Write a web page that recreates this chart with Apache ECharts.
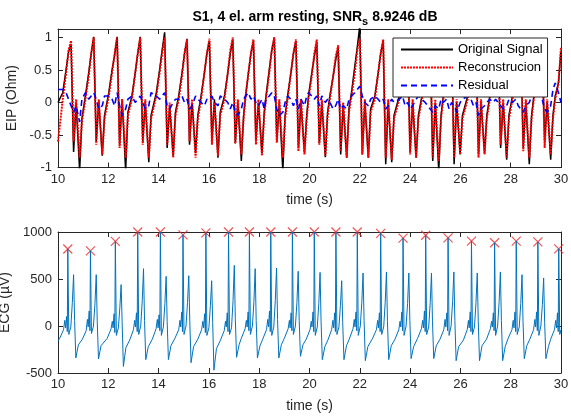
<!DOCTYPE html>
<html>
<head>
<meta charset="utf-8">
<script src="https://cdn.jsdelivr.net/npm/echarts@6/dist/echarts.min.js"></script>
<style>
  html, body { margin: 0; padding: 0; background: #fff; }
  #chart { width: 571px; height: 416px; }
</style>
</head>
<body>
<div id="chart"></div>
<script>
// EIP (top panel): key samples
const EIP_TIME = [
  10.00,
  10.19, 10.32, 10.42, 10.52, 10.62, 10.72, 10.86, 10.95,
  11.09, 11.22, 11.32, 11.42, 11.52, 11.62, 11.76, 11.85,
  12.02, 12.15, 12.25, 12.35, 12.45, 12.55, 12.69, 12.78,
  12.94, 13.07, 13.17, 13.27, 13.37, 13.47, 13.61, 13.70,
  13.91, 14.04, 14.14, 14.24, 14.34, 14.44, 14.58, 14.67,
  14.80, 14.93, 15.03, 15.13, 15.23, 15.33, 15.47, 15.56,
  15.69, 15.82, 15.92, 16.02, 16.12, 16.22, 16.36, 16.45,
  16.62, 16.75, 16.85, 16.95, 17.05, 17.15, 17.29, 17.38,
  17.46, 17.57, 17.67, 17.77, 17.87, 17.97, 18.11, 18.20,
  18.27, 18.40, 18.50, 18.60, 18.70, 18.80, 18.94, 19.03,
  19.13, 19.26, 19.36, 19.46, 19.56, 19.66, 19.80, 19.89,
  19.96, 20.09, 20.19, 20.29, 20.39, 20.49, 20.63, 20.72,
  20.81, 20.94, 21.04, 21.14, 21.24, 21.34, 21.48, 21.57,
  21.67, 21.80, 21.90, 22.00, 22.10, 22.20, 22.34, 22.43,
  22.60, 22.73, 22.83, 22.93, 23.03, 23.13, 23.27, 23.36,
  23.57, 23.70, 23.80, 23.90, 24.00, 24.10, 24.24, 24.33,
  24.47, 24.60, 24.70, 24.80, 24.90, 25.00, 25.14, 25.23,
  25.32, 25.45, 25.55, 25.65, 25.75, 25.85, 25.99, 26.08,
  26.29, 26.42, 26.52, 26.62, 26.72, 26.82, 26.96, 27.05,
  27.17, 27.30, 27.40, 27.50, 27.60, 27.70, 27.84, 27.93,
  28.07, 28.20, 28.30, 28.40, 28.50, 28.60, 28.74, 28.83,
  28.92, 29.05, 29.15, 29.25, 29.35, 29.45, 29.59, 29.68,
  29.77, 29.90, 30.00
]
const EIP_ORIG = [
  0.00,
  0.15, 0.50, 0.78, 0.90, -0.76, 0.00, -1.05, -0.25,
  0.10, 0.45, 0.75, 1.01, -0.60, 0.02, -0.82, -0.20,
  0.15, 0.50, 0.72, 1.01, -0.65, 0.05, -1.05, -0.15,
  0.10, 0.45, 0.75, 1.01, -0.60, 0.00, -0.92, -0.20,
  0.15, 0.50, 0.80, 1.08, -0.70, -0.05, -0.82, -0.15,
  0.10, 0.45, 0.75, 0.98, -0.65, 0.00, -0.78, -0.20,
  0.10, 0.45, 0.75, 0.95, -0.60, 0.05, -0.85, -0.15,
  0.10, 0.45, 0.75, 0.97, -0.63, 0.00, -0.90, -0.20,
  0.10, 0.45, 0.75, 0.95, -0.60, 0.00, -0.78, -0.15,
  0.10, 0.50, 0.80, 1.00, -0.60, 0.00, -1.05, -0.20,
  0.10, 0.45, 0.75, 0.95, -0.70, 0.00, -0.77, -0.20,
  0.10, 0.45, 0.70, 0.93, -0.63, 0.00, -0.84, -0.15,
  0.10, 0.40, 0.65, 0.85, -0.80, -0.05, -0.85, -0.10,
  0.15, 0.55, 0.85, 1.18, -0.80, 0.00, -0.85, -0.10,
  0.10, 0.45, 0.75, 0.95, -0.95, 0.00, -0.92, -0.20,
  0.10, 0.45, 0.75, 0.95, -0.77, 0.00, -0.85, -0.20,
  0.10, 0.45, 0.70, 0.90, -0.90, 0.00, -1.05, -0.20,
  0.10, 0.45, 0.75, 0.95, -0.95, 0.00, -0.80, -0.20,
  0.10, 0.45, 0.70, 0.90, -0.80, 0.00, -0.78, -0.20,
  0.10, 0.45, 0.70, 0.90, -0.70, 0.00, -0.88, -0.20,
  0.10, 0.45, 0.70, 0.90, -0.70, 0.00, -0.95, -0.20,
  0.10, 0.40, 0.65, 0.85, -0.60, 0.00, -0.88, -0.20,
  0.10, 0.30, 0.80
]
const EIP_RECON = [
  -0.60,
  0.05, 0.45, 0.80, 0.95, -0.60, 0.05, -0.85, -0.30,
  0.05, 0.40, 0.75, 1.00, -0.65, 0.05, -0.80, -0.25,
  0.10, 0.45, 0.75, 1.00, -0.70, 0.05, -0.85, -0.20,
  0.05, 0.45, 0.75, 1.00, -0.65, 0.05, -0.85, -0.25,
  0.10, 0.45, 0.75, 1.00, -0.65, 0.00, -0.85, -0.20,
  0.05, 0.40, 0.75, 0.97, -0.60, 0.05, -0.85, -0.25,
  0.05, 0.45, 0.75, 0.98, -0.65, 0.00, -0.82, -0.20,
  0.05, 0.45, 0.80, 1.00, -0.63, 0.05, -0.80, -0.25,
  0.10, 0.45, 0.75, 0.97, -0.65, 0.05, -0.82, -0.20,
  0.05, 0.45, 0.80, 1.00, -0.62, 0.05, -0.85, -0.25,
  0.05, 0.45, 0.75, 0.97, -0.75, 0.05, -0.80, -0.25,
  0.05, 0.40, 0.75, 0.97, -0.65, 0.05, -0.82, -0.20,
  0.05, 0.40, 0.70, 0.88, -0.75, 0.00, -0.85, -0.15,
  0.10, 0.45, 0.80, 0.98, -0.80, 0.05, -0.85, -0.15,
  0.05, 0.45, 0.75, 0.97, -0.85, 0.05, -0.88, -0.25,
  0.05, 0.45, 0.75, 0.95, -0.80, 0.05, -0.85, -0.25,
  0.05, 0.45, 0.75, 0.92, -0.85, 0.05, -0.90, -0.25,
  0.05, 0.45, 0.75, 0.95, -0.85, 0.05, -0.80, -0.25,
  0.05, 0.45, 0.75, 0.92, -0.85, 0.05, -0.80, -0.25,
  0.05, 0.45, 0.75, 0.92, -0.65, 0.05, -0.85, -0.25,
  0.05, 0.45, 0.75, 0.92, -0.75, 0.05, -0.85, -0.25,
  0.05, 0.40, 0.70, 0.88, -0.70, 0.05, -0.80, -0.25,
  0.05, 0.30, 0.85
]
const EIP_RESID = [
  0.20,
  0.20, 0.15, 0.05, -0.05, -0.15, -0.05, -0.30, 0.05,
  0.15, 0.05, 0.10, 0.15, 0.05, -0.10, -0.05, 0.10,
  0.10, 0.05, -0.05, 0.15, -0.05, -0.20, -0.10, 0.05,
  0.10, 0.00, 0.05, 0.10, 0.00, -0.10, -0.05, 0.15,
  0.10, 0.05, 0.10, 0.15, -0.05, -0.10, 0.00, 0.05,
  0.05, 0.10, 0.00, 0.05, -0.10, -0.05, 0.10, 0.05,
  0.00, -0.05, 0.05, 0.05, 0.10, 0.00, -0.05, 0.10,
  0.05, 0.00, -0.10, 0.00, -0.15, -0.20, -0.10, 0.05,
  0.10, 0.15, 0.05, 0.10, 0.00, -0.05, 0.05, -0.10,
  0.05, 0.10, 0.15, 0.10, -0.10, -0.20, -0.15, 0.00,
  0.10, 0.05, -0.05, 0.05, -0.10, 0.05, -0.05, 0.10,
  0.15, 0.10, 0.05, 0.10, -0.05, 0.10, 0.00, 0.05,
  0.00, -0.10, -0.05, 0.05, -0.10, -0.05, -0.10, 0.05,
  0.10, 0.15, 0.20, 0.25, 0.10, 0.00, -0.05, 0.05,
  0.10, 0.05, 0.00, 0.05, -0.10, -0.05, 0.05, 0.00,
  0.05, 0.10, -0.05, 0.00, -0.10, -0.05, 0.05, 0.10,
  0.05, 0.00, -0.05, -0.10, -0.15, -0.05, -0.10, 0.05,
  0.00, 0.05, -0.10, 0.00, -0.05, -0.15, 0.00, 0.05,
  0.10, 0.05, -0.05, 0.00, -0.20, -0.10, -0.05, 0.00,
  0.05, 0.00, 0.05, 0.00, -0.05, -0.10, -0.05, 0.05,
  0.00, 0.05, -0.05, -0.10, -0.15, -0.05, 0.00, 0.10,
  0.15, 0.20, 0.10, 0.05, -0.10, -0.15, -0.05, 0.20,
  0.30, 0.15, 0.00
]

// ECG (bottom panel), one line per beat
const ECG_TIME = [
  10.00,
  10.07, 10.22, 10.27, 10.30, 10.34, 10.37, 10.39, 10.43, 10.51, 10.57, 10.62, 10.66, 10.71, 10.81,
  10.97, 11.12, 11.17, 11.20, 11.24, 11.27, 11.29, 11.33, 11.41, 11.47, 11.52, 11.56, 11.61, 11.71,
  11.96, 12.11, 12.16, 12.19, 12.23, 12.26, 12.28, 12.32, 12.40, 12.46, 12.51, 12.55, 12.60, 12.70,
  12.85, 13.00, 13.05, 13.08, 13.12, 13.15, 13.17, 13.21, 13.29, 13.35, 13.40, 13.44, 13.49, 13.59,
  13.75, 13.90, 13.95, 13.98, 14.02, 14.05, 14.07, 14.11, 14.19, 14.25, 14.30, 14.34, 14.39, 14.49,
  14.65, 14.80, 14.85, 14.88, 14.92, 14.95, 14.97, 15.01, 15.09, 15.15, 15.20, 15.24, 15.29, 15.39,
  15.56, 15.71, 15.76, 15.79, 15.83, 15.86, 15.88, 15.92, 16.00, 16.06, 16.11, 16.15, 16.20, 16.30,
  16.46, 16.61, 16.66, 16.69, 16.73, 16.76, 16.78, 16.82, 16.90, 16.96, 17.01, 17.05, 17.10, 17.20,
  17.29, 17.44, 17.49, 17.52, 17.56, 17.59, 17.61, 17.65, 17.73, 17.79, 17.84, 17.88, 17.93, 18.03,
  18.14, 18.29, 18.34, 18.37, 18.41, 18.44, 18.46, 18.50, 18.58, 18.64, 18.69, 18.73, 18.78, 18.88,
  19.00, 19.15, 19.20, 19.23, 19.27, 19.30, 19.32, 19.36, 19.44, 19.50, 19.55, 19.59, 19.64, 19.74,
  19.87, 20.02, 20.07, 20.10, 20.14, 20.17, 20.19, 20.23, 20.31, 20.37, 20.42, 20.46, 20.51, 20.61,
  20.73, 20.88, 20.93, 20.96, 21.00, 21.03, 21.05, 21.09, 21.17, 21.23, 21.28, 21.32, 21.37, 21.47,
  21.58, 21.73, 21.78, 21.81, 21.85, 21.88, 21.90, 21.94, 22.02, 22.08, 22.13, 22.17, 22.22, 22.32,
  22.51, 22.66, 22.71, 22.74, 22.78, 22.81, 22.83, 22.87, 22.95, 23.01, 23.06, 23.10, 23.15, 23.25,
  23.40, 23.55, 23.60, 23.63, 23.67, 23.70, 23.72, 23.76, 23.84, 23.90, 23.95, 23.99, 24.04, 24.14,
  24.30, 24.45, 24.50, 24.53, 24.57, 24.60, 24.62, 24.66, 24.74, 24.80, 24.85, 24.89, 24.94, 25.04,
  25.19, 25.34, 25.39, 25.42, 25.46, 25.49, 25.51, 25.55, 25.63, 25.69, 25.74, 25.78, 25.83, 25.93,
  26.12, 26.27, 26.32, 26.35, 26.39, 26.42, 26.44, 26.48, 26.56, 26.62, 26.67, 26.71, 26.76, 26.86,
  27.04, 27.19, 27.24, 27.27, 27.31, 27.34, 27.36, 27.40, 27.48, 27.54, 27.59, 27.63, 27.68, 27.78,
  27.90, 28.05, 28.10, 28.13, 28.17, 28.20, 28.22, 28.26, 28.34, 28.40, 28.45, 28.49, 28.54, 28.64,
  28.76, 28.91, 28.96, 28.99, 29.03, 29.06, 29.08, 29.12, 29.20, 29.26, 29.31, 29.35, 29.40, 29.50,
  29.59, 29.74, 29.79, 29.82, 29.86, 29.89, 29.91, 29.95, 30.00
]
const ECG_UV = [
  -160,
  -130, -40, 60, -20, 100, -60, 819, -90, -10, 250, 546, 60, -340, -200,
  -140, -50, 70, -10, 160, -50, 800, -80, 0, 240, 546, 50, -351, -210,
  -130, -30, 50, -20, 130, -70, 900, -100, -20, 200, 440, 40, -430, -230,
  -150, -40, 60, -10, 140, -60, 1000, -90, 0, 270, 610, 60, -358, -220,
  -140, -30, 70, -20, 120, -50, 1000, -100, -10, 240, 528, 50, -358, -210,
  -130, -40, 60, -10, 150, -60, 970, -90, 0, 250, 535, 50, -390, -220,
  -140, -40, 50, -20, 130, -70, 990, -100, -20, 220, 482, 40, -470, -240,
  -150, -50, 50, -10, 140, -60, 1000, -90, -20, 270, 645, 80, -333, -200,
  -130, -30, 60, -10, 150, -50, 1000, -90, 0, 260, 610, 60, -340, -210,
  -140, -40, 70, -10, 160, -60, 1000, -100, -10, 270, 617, 70, -340, -200,
  -130, -30, 60, -20, 140, -50, 1000, -90, 0, 250, 582, 60, -322, -200,
  -140, -40, 50, -10, 150, -60, 1000, -100, -10, 240, 570, 50, -358, -220,
  -150, -40, 60, -20, 140, -60, 1000, -90, -10, 220, 482, 40, -358, -210,
  -140, -30, 70, -10, 150, -50, 1000, -100, 0, 250, 564, 60, -369, -220,
  -130, -40, 60, -20, 140, -60, 985, -90, -10, 250, 575, 50, -358, -210,
  -140, -40, 50, -10, 150, -50, 935, -100, 0, 240, 564, 60, -347, -220,
  -130, -30, 60, -20, 160, -60, 965, -90, -10, 250, 564, 50, -347, -210,
  -140, -40, 70, -10, 140, -50, 938, -100, 0, 260, 575, 60, -369, -220,
  -150, -40, 60, -20, 150, -60, 903, -90, -10, 250, 564, 50, -369, -210,
  -140, -30, 50, -10, 140, -50, 886, -100, 0, 260, 575, 60, -369, -220,
  -130, -40, 60, -20, 150, -60, 903, -90, -10, 240, 546, 50, -347, -210,
  -140, -40, 70, -10, 150, -50, 895, -100, 0, 230, 511, 40, -347, -220,
  -140, -40, 60, -20, 140, -60, 821, -90, -40
]
// detected R peaks (red crosses)
const R_TIME = [10.39, 11.29, 12.28, 13.17, 14.07, 14.97, 15.88, 16.78, 17.61, 18.46, 19.32, 20.19,
  21.05, 21.90, 22.83, 23.72, 24.62, 25.51, 26.44, 27.36, 28.22, 29.08, 29.91]
const R_UV = [819, 800, 900, 1000, 1000, 970, 990, 1000, 1000, 1000, 1000, 1000,
  1000, 1000, 985, 935, 965, 938, 903, 886, 903, 895, 821]

const X_TICKS = [10, 12, 14, 16, 18, 20, 22, 24, 26, 28, 30]
const EIP_TICKS = [-1, -0.5, 0, 0.5, 1]
const ECG_TICKS = [-500, 0, 500, 1000]

const zip = (xs, ys) => xs.map((x, i) => [x, ys[i]])

const FONT = 'Liberation Sans'
const AX = '#262626'

const xAxisBase = (gridIndex, position, showLabel) => ({
  type: 'value',
  gridIndex,
  position,
  min: X_TICKS[0],
  max: X_TICKS[X_TICKS.length - 1],
  interval: 2,
  name: showLabel ? 'time (s)' : '',
  nameLocation: 'middle',
  nameGap: 26,
  nameTextStyle: { fontFamily: FONT, fontSize: 14, color: AX },
  axisLine: { show: true, onZero: false, lineStyle: { color: AX, width: 1 } },
  axisTick: { show: true, inside: true, length: 5, lineStyle: { color: AX } },
  axisLabel: { show: showLabel, fontFamily: FONT, fontSize: 13, color: AX, margin: 5 },
  splitLine: { show: false },
})

const yAxisBase = (gridIndex, position, ticks, max, name) => ({
  type: 'value',
  gridIndex,
  position,
  min: ticks[0],
  max,
  interval: ticks[1] - ticks[0],
  name: name || '',
  nameLocation: 'middle',
  nameGap: 34,
  nameTextStyle: { fontFamily: FONT, fontSize: 14, color: AX },
  axisLine: { show: true, onZero: false, lineStyle: { color: AX, width: 1 } },
  axisTick: { show: true, inside: true, length: 5, lineStyle: { color: AX } },
  axisLabel: {
    show: !!name, fontFamily: FONT, fontSize: 13, color: AX, margin: 6,
    showMaxLabel: ticks[ticks.length - 1] === max,
    formatter: (v) => String(v),
  },
  splitLine: { show: false },
})

const chart = echarts.init(document.getElementById('chart'), null, { renderer: 'canvas' })

chart.setOption({
  backgroundColor: '#ffffff',
  animation: false,
  title: {
    text: 'S1, 4 el. arm resting, SNR{sub|s} 8.9246 dB',
    left: 310,
    top: 3,
    textAlign: 'center',
    textStyle: {
      fontFamily: FONT, fontSize: 14, fontWeight: 'bold', color: '#000',
      rich: { sub: { fontFamily: FONT, fontSize: 11, fontWeight: 'bold', color: '#000', verticalAlign: 'bottom', padding: [8, 0, 0, 0] } },
    },
  },
  legend: {
    orient: 'vertical',
    left: 393,
    top: 38,
    padding: [5, 5, 5, 7],
    itemWidth: 52,
    itemHeight: 12,
    itemGap: 5,
    backgroundColor: '#fff',
    borderColor: AX,
    borderWidth: 1,
    itemStyle: { opacity: 0 },
    textStyle: { fontFamily: FONT, fontSize: 13, color: '#000' },
    data: ['Original Signal', 'Reconstrucion', 'Residual'],
  },
  grid: [
    { left: 58, right: 10, top: 29, height: 138.5, outerBoundsMode: 'none' },
    { left: 58, right: 10, top: 232, height: 141, outerBoundsMode: 'none' },
  ],
  xAxis: [
    xAxisBase(0, 'bottom', true),
    xAxisBase(0, 'top', false),
    xAxisBase(1, 'bottom', true),
    xAxisBase(1, 'top', false),
  ],
  yAxis: [
    yAxisBase(0, 'left', EIP_TICKS, 1.13, 'EIP (Ohm)'),
    yAxisBase(0, 'right', EIP_TICKS, 1.13),
    yAxisBase(1, 'left', ECG_TICKS, 1000, 'ECG (µV)'),
    yAxisBase(1, 'right', ECG_TICKS, 1000),
  ],
  series: [
    {
      name: 'Original Signal', type: 'line', xAxisIndex: 0, yAxisIndex: 0,
      data: zip(EIP_TIME, EIP_ORIG), symbol: 'none',
      lineStyle: { color: '#000', width: 1.5 }, itemStyle: { color: '#000' },
    },
    {
      name: 'Reconstrucion', type: 'line', xAxisIndex: 0, yAxisIndex: 0,
      data: zip(EIP_TIME, EIP_RECON), symbol: 'none',
      lineStyle: { color: '#ff0000', width: 2, type: [2, 1] }, itemStyle: { color: '#ff0000' },
    },
    {
      name: 'Residual', type: 'line', xAxisIndex: 0, yAxisIndex: 0,
      data: zip(EIP_TIME, EIP_RESID), symbol: 'none',
      lineStyle: { color: '#0000ff', width: 1.6, type: [6, 4] }, itemStyle: { color: '#0000ff' },
    },
    {
      name: 'ECG', type: 'line', xAxisIndex: 2, yAxisIndex: 2,
      data: zip(ECG_TIME, ECG_UV), symbol: 'none',
      lineStyle: { color: '#0072bd', width: 1 },
    },
    {
      name: 'R peaks', type: 'scatter', xAxisIndex: 2, yAxisIndex: 2,
      data: zip(R_TIME, R_UV),
      symbol: 'path://M0,0L10,10M10,0L0,10',
      symbolSize: 9,
      clip: false,
      itemStyle: { color: 'rgba(0,0,0,0)', borderColor: '#ee2b2b', borderWidth: 1.2 },
    },
  ],
})
</script>
</body>
</html>
